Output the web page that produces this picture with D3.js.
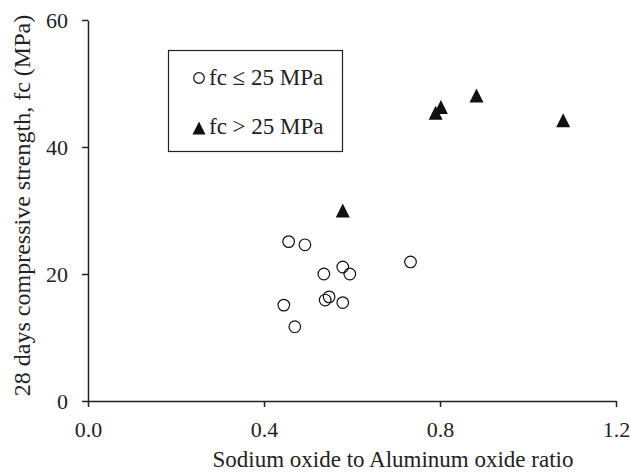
<!DOCTYPE html>
<html>
<head>
<meta charset="utf-8">
<script src="https://cdn.jsdelivr.net/npm/d3@7"></script>
<style>
  body { margin: 0; background: #fff; }
</style>
</head>
<body>
<svg id="chart" width="631" height="474"></svg>
<script>
// data
var lowX  = [0.456, 0.493, 0.536, 0.579, 0.595, 0.733, 0.539, 0.548, 0.579, 0.445, 0.470];
var lowY  = [25.1, 24.6, 20.0, 21.1, 20.0, 21.9, 15.9, 16.4, 15.5, 15.1, 11.7];
var highX = [0.579, 0.790, 0.802, 0.883, 1.080];
var highY = [30.0, 45.4, 46.3, 48.1, 44.2];
var xTicks = [0.0, 0.4, 0.8, 1.2];
var yTicks = [0, 20, 40, 60];
var legendLabels = ["fc \u2264 25 MPa", "fc > 25 MPa"];

var FONT = "'Liberation Serif', 'Times New Roman', serif";
var svg = d3.select("#chart");
var x = d3.scaleLinear().domain([0, 1.2]).range([88, 616]);
var y = d3.scaleLinear().domain([0, 60]).range([401, 20]);

// excel style triangle: as tall as it is wide, centred on its box
var excelTri = {
  draw: function(ctx, size) {
    var w = Math.sqrt(size), h = w;
    ctx.moveTo(0, -h / 2);
    ctx.lineTo(w / 2, h / 2);
    ctx.lineTo(-w / 2, h / 2);
    ctx.closePath();
  }
};

// axes
var xAxis = svg.append("g").attr("transform", "translate(0," + y(0) + ")")
  .call(d3.axisBottom(x).tickValues(xTicks).tickFormat(d3.format(".1f")).tickSize(6).tickSizeOuter(0));
var yAxis = svg.append("g").attr("transform", "translate(" + x(0) + ",0)")
  .call(d3.axisLeft(y).tickValues(yTicks).tickSize(6).tickSizeOuter(0));

[xAxis, yAxis].forEach(function(a){
  a.attr("font-family", null).attr("font-size", null);
  a.select(".domain").attr("stroke", "#222").attr("stroke-width", 1.5);
  a.selectAll(".tick line").attr("stroke", "#222").attr("stroke-width", 1.5);
  a.selectAll(".tick text").style("font-family", FONT).style("font-size", "22px").attr("fill", "#222");
});
xAxis.selectAll(".tick text").attr("y", 20).attr("dy", "0.71em");
yAxis.selectAll(".tick text").attr("x", -20).attr("dy", "0.35em");

// titles
svg.append("text").attr("x", 393).attr("y", 467).attr("text-anchor", "middle")
  .style("font-family", FONT).style("font-size", "23px").attr("fill", "#222")
  .text("Sodium oxide to Aluminum oxide ratio");
svg.append("text").attr("transform", "translate(29.5,205.5) rotate(-90)").attr("text-anchor", "middle")
  .style("font-family", FONT).style("font-size", "24px").attr("fill", "#222")
  .text("28 days compressive strength, fc (MPa)");

// points
var low = lowX.map(function(v, i){ return [v, lowY[i]]; });
var high = highX.map(function(v, i){ return [v, highY[i]]; });

svg.append("g").selectAll("circle").data(low).enter().append("circle")
  .attr("cx", function(d){ return x(d[0]); })
  .attr("cy", function(d){ return y(d[1]); })
  .attr("r", 5.8).attr("fill", "none").attr("stroke", "#111").attr("stroke-width", 1.2);

svg.append("g").selectAll("path").data(high).enter().append("path")
  .attr("d", d3.symbol().type(excelTri).size(14 * 14))
  .attr("transform", function(d){ return "translate(" + x(d[0]) + "," + y(d[1]) + ")"; })
  .attr("fill", "#111");

// legend
svg.append("rect").attr("x", 168.5).attr("y", 50.5).attr("width", 174).attr("height", 101)
  .attr("fill", "#fff").attr("stroke", "#222").attr("stroke-width", 1.2);
svg.append("circle").attr("cx", 199).attr("cy", 78).attr("r", 5.3)
  .attr("fill", "none").attr("stroke", "#111").attr("stroke-width", 1.2);
svg.append("path").attr("d", d3.symbol().type(excelTri).size(13 * 13))
  .attr("transform", "translate(199,128)").attr("fill", "#111");
legendLabels.forEach(function(t, i){
  svg.append("text").attr("x", 209).attr("y", 85 + i * 49)
    .style("font-family", FONT).style("font-size", "23px").attr("fill", "#222")
    .text(t);
});
</script>
</body>
</html>
